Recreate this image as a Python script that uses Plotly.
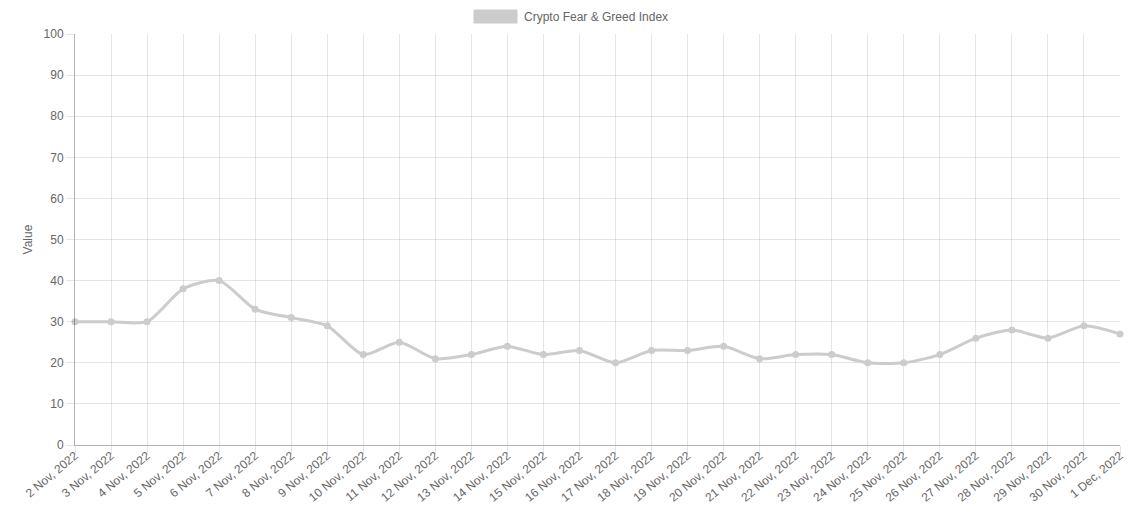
import plotly.graph_objects as go

dates = ["2 Nov, 2022", "3 Nov, 2022", "4 Nov, 2022", "5 Nov, 2022", "6 Nov, 2022",
         "7 Nov, 2022", "8 Nov, 2022", "9 Nov, 2022", "10 Nov, 2022", "11 Nov, 2022",
         "12 Nov, 2022", "13 Nov, 2022", "14 Nov, 2022", "15 Nov, 2022", "16 Nov, 2022",
         "17 Nov, 2022", "18 Nov, 2022", "19 Nov, 2022", "20 Nov, 2022", "21 Nov, 2022",
         "22 Nov, 2022", "23 Nov, 2022", "24 Nov, 2022", "25 Nov, 2022", "26 Nov, 2022",
         "27 Nov, 2022", "28 Nov, 2022", "29 Nov, 2022", "30 Nov, 2022", "1 Dec, 2022"]
values = [30, 30, 30, 38, 40, 33, 31, 29, 22, 25,
          21, 22, 24, 22, 23, 20, 23, 23, 24, 21,
          22, 22, 20, 20, 22, 26, 28, 26, 29, 27]
series_name = "Crypto Fear & Greed Index"
y_ticks = [0, 10, 20, 30, 40, 50, 60, 70, 80, 90, 100]

grey = "rgb(204,204,204)"
grid = "rgba(0,0,0,0.1)"
font = dict(family="Liberation Sans, Arial, sans-serif", size=12, color="#666")

# page body has an 8px default margin, so the figure starts at (8, 8)
L, T, R, B = 75 - 8, 34 - 8, 1125 - 1120, 507 - 445

fig = go.Figure()
fig.add_trace(go.Scatter(
    x=dates, y=values, name=series_name, mode="lines+markers",
    line=dict(color=grey, width=3, shape="spline", smoothing=0.7),
    marker=dict(color=grey, size=7),
    cliponaxis=False, showlegend=False,
))

fig.update_layout(
    width=1117, height=499,
    margin=dict(l=L, r=R, t=T, b=B, autoexpand=False),
    paper_bgcolor="white", plot_bgcolor="white",
    font=font,
    xaxis=dict(
        type="category", range=[0, len(dates) - 1], automargin=False,
        showgrid=True, gridcolor=grid, gridwidth=1,
        showline=True, linecolor="rgba(0,0,0,0.3)", linewidth=1,
        ticks="outside", ticklen=8, tickcolor=grid,
        tickangle=-40, tickfont=font, zeroline=False,
        ticklabelstandoff=-10,
    ),
    yaxis=dict(
        range=[0, 100], tickvals=y_ticks, automargin=False,
        showgrid=True, gridcolor=grid, gridwidth=1,
        showline=True, linecolor="rgba(0,0,0,0.3)", linewidth=1,
        ticks="outside", ticklen=8, tickcolor=grid,
        tickfont=font, zeroline=False,
        title=dict(text="Value", font=font, standoff=8),
    ),
    shapes=[dict(type="rect", xref="paper", yref="paper",
                 x0=(474 - 75) / 1045, x1=(517 - 75) / 1045,
                 y0=(445 - 23) / 411, y1=(445 - 10) / 411,
                 fillcolor=grey, line=dict(color=grey, width=1))],
    annotations=[dict(text=series_name, xref="paper", yref="paper",
                      x=(522 - 75) / 1045, y=(445 - 16.5) / 411,
                      xanchor="left", yanchor="middle", showarrow=False,
                      font=font)],
)

fig.write_html("out.html")
